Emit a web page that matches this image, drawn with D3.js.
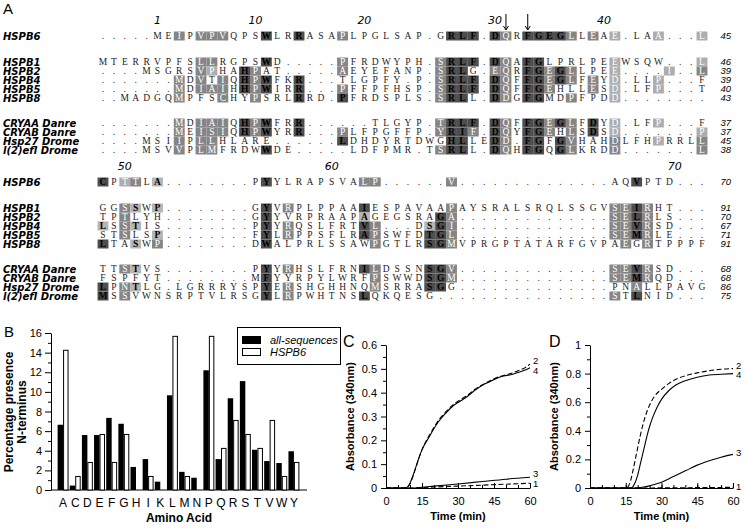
<!DOCTYPE html>
<html>
<head>
<meta charset="utf-8">
<script src="https://cdn.jsdelivr.net/npm/d3@7"></script>
<style>
body { margin: 0; background: #fff; }
text { font-family: "Liberation Sans", Arial, sans-serif; }
</style>
</head>
<body>
<script>
//Width and height
var w = 746;
var h = 530;

//----- Panel A: alignment data (groups of 5 columns, spaces are stripped) -----
var names = ["HSPB6", "HSPB1", "HSPB2", "HSPB4", "HSPB5", "HSPB8",
             "CRYAA Danre", "CRYAB Danre", "Hsp27 Drome", "l(2)efl Drome"];

var seqBlock1 = [
  "..... MEIPV PVQPS WLRRA SAPLP GLSAP .GRLF .DQRF GEGLL EAE.L AA... L",
  "MTERR VPFSL LRGPS WD... ..PFR DWYPH .SRLF .DQAF GLPRL PEEWS QW... L",
  "....M SGRSV PHAHP AT... ..AEY EFANP .SRLG .EQRF GEGLL PEE.. ..I.. L",
  "..... ..MDV TIQHP WFKR. ..TLG PFY.P .SRLF .DQFF GEGLF EYD.L LP... F",
  "..... ..MDI AIHHP WIRR. ..PFF PFHSP .SRLF .DQFF GEHLL ESD.L FP... T",
  "..MAD GQMPF SCHYP SRLRR D.PFR DSPLS .SRLL .DDGF GMDPF PDD.. ..... .",
  "..... ..MDI AIQHP WFRR. ..... TLGYP .TRLF .DQFF GEGLF DYD.L FP... F",
  "..... ..MEI SIQHP WYRR. ..PLF PGFFP .YRIF .DQYF GEHLS DSD.. ..... P",
  "....M SIIPL LHLAR E.... ..LDH DYRTD WGHLL EDD.F GFGVH AHDLF HPRRL L",
  "....M SVVPL MFRDW WDE.. ...LD FPMR. TSRLL .DQHF GQGLK RDD.. ..... L"
];
var shadeBlock1 = [
  "..... ..2.2 22... 3..3. ..2.. ..... ..333 .32.3 3332. 2.1.. .1... 1",
  "..... ....2 2.... 3.... ..2.. ..... .2333 .32.3 3.... ..1.. ..... 1",
  "..... ....2 1..32 ..... ..2.. ..... .233. .22.3 3232. ..1.. ..1.. 2",
  "..... ..2.2 .2.32 3..3. ..... ..... .2333 .32.3 3232. 2.1.. .1... .",
  "..... ..2.2 22.32 3..3. ..2.. ..... .2333 .32.3 32... 2.1.. .1... .",
  "..... ..2.. .2..2 ...3. ..3.. ..... .233. .32.3 3..2. ..1.. ..... .",
  "..... ..2.2 22.32 3..3. ..... ..... .2333 .32.3 3232. 3.1.. .1... .",
  "..... ..2.2 22.32 3..3. ..2.. ..... .2332 .32.3 32.2. 3.1.. ..... 1",
  "..... ..2.2 2.... ..... ..3.. ..... ..33. .32.3 3.32. ..2.. .1... 2",
  "..... ..2.2 2.... 3.... ..... ..... .233. .32.3 3.32. ..2.. ..... 2"
];
var endBlock1 = [45, 46, 39, 39, 40, 43, 37, 37, 45, 38];

var seqBlock2 = [
  "CPTTL A.... ....P YYLRA PSVAL P.... ..V.. ..... ..... ..AQV PTD.. .",
  "GGSSW P.... ....G YVRPL PPAAI ESPAV AAPAY SRALS RQLSS GVSEI RHT.. .",
  "TPTLY H.... ....G YYVRP RAAPA GEGSR AGA.. ..... ..... ..SEL RLS.. .",
  "LSSTI S.... ....P YYRQS LFRTV L...D SGI.. ..... ..... ..SEV RSD.. .",
  "STSLS P.... ....F YLRPP SFLRA PSWFD TGL.. ..... ..... ..SEM RLE.. .",
  "LTASW P.... ....D WALPR LSSAW PGTLR SGMVP RGPTA TARFG VPAEG RTPPP F",
  "TTSTV S.... ....P YYRHS LFRNI LDSSN SGV.. ..... ..... ..SEV RSD.. .",
  "FSPFY T.... ....M FYYRP YLWRF PSWWD SGM.. ..... ..... ..SEM RQD.. .",
  "LPNTL G.LGR RRYSP YERSH GHHNQ MSRRA SGG.. ..... ..... ..PNA LLPAV G",
  "MSSVW NSRPT VLRSG YLRPW HTNSL QKQES G.... ..... ..... ..STL NID.. ."
];
var shadeBlock2 = [
  "3.12. 4.... ..... 3.... ....2 2.... ..2.. ..... ..... ....3 ..... .",
  "..24. 4.... ..... 3.2.. ....3 ..... ..2.. ..... ..... ..223 2.... .",
  "..2.. ..... ..... 3.... ....4 ..... .32.. ..... ..... ..223 2.... .",
  "4.24. ..... ..... 3.2.. ....3 2.... 432.. ..... ..... ..223 2.... .",
  "..2.. 4.... ..... 3.2.. ....3 2.... 332.. ..... ..... ..223 2.... .",
  "3..4. 2.... ..... 3.... ..... 2.... 332.. ..... ..... ...2. 2.... .",
  "..24. ..... ..... 3.2.. ....3 2.... 332.. ..... ..... ..223 2.... .",
  "..... ..... ..... 3.... ..... 2.... 332.. ..... ..... ..223 2.... .",
  "3.24. ..... ..... 3.2.. ..... 2.... 33... ..... ..... ....2 ..... .",
  "3.2.. ..... ..... 3.2.. ....3 ..... ..... ..... ..... ..2.3 ..... ."
];
var endBlock2 = [70, 91, 70, 67, 71, 91, 68, 68, 86, 75];

//residue numbers above HSPB6 (label, alignment column)
var numBlock1 = [["1", 6], ["10", 15], ["20", 25], ["30", 37], ["40", 47]];
var arrowCols = [38, 40];
var numBlock2 = [["50", 3], ["60", 22], ["70", 53.5]];

//----- Panel B data -----
var aminoAcids = ["A","C","D","E","F","G","H","I","K","L","M","N","P","Q","R","S","T","V","W","Y"];
var allSequences = [6.65,0.45,5.6,5.6,7.35,6.75,2.35,3.15,0.85,9.65,1.85,1.25,12.2,3.15,9.35,11.1,4.1,2.95,2.75,3.95];
var hspb6Values = [14.29,1.43,2.86,5.71,2.86,5.71,0,1.43,0,15.71,1.43,0,15.71,4.29,7.14,5.71,4.29,7.14,1.43,2.86];

//----- Panel C data (time in min, absorbance) -----
var cTimeFast = [0,8,9,10,11,12,13,14,15,16,18,20,22,25,28,31,34,37,40,43,46,49,52,55,58,60];
var cCurve4 = [0,0,0.005,0.02,0.045,0.075,0.105,0.135,0.16,0.18,0.215,0.25,0.28,0.315,0.345,0.365,0.385,0.41,0.43,0.445,0.46,0.47,0.475,0.485,0.495,0.505];
var cCurve2 = [0,0,0.004,0.018,0.042,0.072,0.103,0.134,0.161,0.183,0.22,0.255,0.286,0.32,0.35,0.37,0.39,0.413,0.432,0.448,0.463,0.472,0.48,0.492,0.505,0.52];
var cTimeSlow = [0,10,15,20,30,40,50,60];
var cCurve3 = [0,0,0.003,0.008,0.017,0.027,0.037,0.045];
var cCurve1 = [0,0,0.002,0.004,0.008,0.012,0.016,0.02];

//----- Panel D data -----
var dTime2 = [0,15,16,17,18,19,20,21,22,23,24,25,27,30,33,36,40,45,50,55,60];
var dCurve2 = [0,0,0.01,0.05,0.12,0.2,0.28,0.36,0.43,0.49,0.54,0.58,0.64,0.69,0.73,0.76,0.785,0.805,0.82,0.83,0.835];
var dTime4 = [0,17,18,19,20,21,22,23,24,25,26,28,30,33,36,40,45,50,55,60];
var dCurve4 = [0,0,0.01,0.04,0.09,0.16,0.23,0.3,0.37,0.43,0.48,0.56,0.62,0.68,0.72,0.75,0.775,0.79,0.795,0.80];
var dTimeSlow = [0,18,22,25,28,30,35,40,45,50,55,60];
var dCurve3 = [0,0,0.005,0.015,0.03,0.04,0.08,0.12,0.16,0.19,0.215,0.235];
var dCurve1 = [0,0,0,0,0.001,0.001,0.002,0.002,0.003,0.004,0.004,0.005];

//Create SVG element
var svg = d3.select("body")
            .append("svg")
            .attr("width", w)
            .attr("height", h);

//===================== Panel A =====================
var shadeFill = {"1": "#adadad", "2": "#858585", "3": "#4e4e4e", "4": "#b5b5b5"};
var shadeText = {"1": "#fff", "2": "#fff", "3": "#000", "4": "#000"};

//column scale for the alignment
var col = d3.scaleLinear().domain([1, 56]).range([103, 702]);
var colW = col(2) - col(1);
var rowH = 9;
//vertical offset of each row from the HSPB6 row
var rowOffset = [0, 26, 35, 44, 53, 62, 87, 96, 105, 114];

function clean(s) { return s.replace(/ /g, ""); }

function drawBlock(baseY, seqs, shades, ends, nums, arrows) {
  var g = svg.append("g");

  seqs.forEach(function(s, r) {
    var seq = clean(s);
    var sh = clean(shades[r]);
    var y = baseY + rowOffset[r];

    //row name
    g.append("text")
     .attr("x", 3)
     .attr("y", y)
     .attr("dy", "0.35em")
     .style("font-family", "'DejaVu Sans', sans-serif")
     .style("font-weight", "bold")
     .style("font-style", "italic")
     .style("font-size", "10px")
     .text(names[r]);

    //shading boxes
    var cells = seq.split("").map(function(c, i) {
      return {c: c, i: i + 1, s: sh.charAt(i) || "."};
    });

    g.selectAll(null)
     .data(cells.filter(function(d) { return d.s !== "."; }))
     .enter()
     .append("rect")
     .attr("x", function(d) { return col(d.i) - colW / 2; })
     .attr("y", y - rowH / 2)
     .attr("width", colW)
     .attr("height", rowH)
     .style("fill", function(d) { return shadeFill[d.s]; });

    g.selectAll(null)
     .data(cells)
     .enter()
     .append("text")
     .attr("x", function(d) { return col(d.i); })
     .attr("y", y)
     .attr("dy", "0.35em")
     .attr("text-anchor", "middle")
     .style("font-family", "'Liberation Serif', serif")
     .style("font-size", "9.5px")
     .style("font-weight", function(d) { return d.s === "3" || d.s === "4" ? "bold" : "normal"; })
     .style("fill", function(d) { return d.s === "." ? "#222" : shadeText[d.s]; })
     .text(function(d) { return d.c; });

    //length at the end of the row
    g.append("text")
     .attr("x", 731)
     .attr("y", y)
     .attr("dy", "0.35em")
     .attr("text-anchor", "end")
     .style("font-style", "italic")
     .style("font-size", "9.5px")
     .text(ends[r]);
  });

  //residue numbers
  g.selectAll(null)
   .data(nums)
   .enter()
   .append("text")
   .attr("x", function(d) { return col(d[1]); })
   .attr("y", baseY - 12)
   .attr("text-anchor", "middle")
   .style("font-family", "'DejaVu Sans', sans-serif")
   .style("font-style", "italic")
   .style("font-size", "11px")
   .text(function(d) { return d[0]; });

  //arrows
  arrows.forEach(function(c) {
    var x = col(c);
    g.append("line")
     .attr("x1", x).attr("x2", x)
     .attr("y1", baseY - 22).attr("y2", baseY - 6)
     .style("stroke", "#000").style("stroke-width", 1);
    g.append("path")
     .attr("d", "M" + (x - 2.5) + "," + (baseY - 10) + "L" + x + "," + (baseY - 6) + "L" + (x + 2.5) + "," + (baseY - 10))
     .style("fill", "none").style("stroke", "#000").style("stroke-width", 1);
  });
}

svg.append("text").attr("x", 3).attr("y", 14)
   .style("font-size", "15px").text("A");

drawBlock(36, seqBlock1, shadeBlock1, endBlock1, numBlock1, arrowCols);
drawBlock(182, seqBlock2, shadeBlock2, endBlock2, numBlock2, []);

//===================== Panel B =====================
var gB = svg.append("g");
var xB = d3.scaleBand().domain(aminoAcids).range([57, 300]).paddingInner(0.1).paddingOuter(0.05);
var yB = d3.scaleLinear().domain([0, 16]).range([490, 333]);

gB.append("text").attr("x", 4).attr("y", 337).style("font-size", "15px").text("B");

//minor ticks
gB.append("g")
  .attr("transform", "translate(51,0)")
  .call(d3.axisLeft(yB).tickValues(d3.range(1, 16, 2)).tickSize(3).tickFormat(""))
  .call(function(a) { a.select(".domain").remove(); });
//major ticks
gB.append("g")
  .attr("transform", "translate(51,0)")
  .call(d3.axisLeft(yB).tickValues(d3.range(0, 17, 2)).tickSize(6).tickSizeOuter(0).tickPadding(3))
  .call(function(a) { a.selectAll("text").style("font-size", "11px").style("font-family", "'Liberation Sans', Arial, sans-serif"); });

//x axis line and letters
gB.append("line")
  .attr("x1", 51).attr("x2", 307)
  .attr("y1", yB(0)).attr("y2", yB(0))
  .style("stroke", "#000");
gB.selectAll(null)
  .data(aminoAcids)
  .enter()
  .append("text")
  .attr("x", function(d) { return xB(d) + xB.bandwidth() / 2; })
  .attr("y", yB(0) + 17)
  .attr("text-anchor", "middle")
  .style("font-size", "12px")
  .text(function(d) { return d; });

var half = xB.bandwidth() / 2;
var barData = aminoAcids.map(function(a, i) {
  return {aa: a, all: allSequences[i], h6: hspb6Values[i]};
});

gB.selectAll(".barAll")
  .data(barData)
  .enter()
  .append("rect")
  .attr("x", function(d) { return xB(d.aa); })
  .attr("y", function(d) { return yB(d.all); })
  .attr("width", half)
  .attr("height", function(d) { return yB(0) - yB(d.all); })
  .style("fill", "#000");

gB.selectAll(".barH6")
  .data(barData.filter(function(d) { return d.h6 > 0; }))
  .enter()
  .append("rect")
  .attr("x", function(d) { return xB(d.aa) + half + 0.5; })
  .attr("y", function(d) { return yB(d.h6) + 0.5; })
  .attr("width", half - 1)
  .attr("height", function(d) { return yB(0) - yB(d.h6) - 0.5; })
  .style("fill", "#fff")
  .style("stroke", "#000")
  .style("stroke-width", 1);

gB.append("text")
  .attr("x", 179).attr("y", 522)
  .attr("text-anchor", "middle")
  .style("font-size", "12px").style("font-weight", "bold")
  .text("Amino Acid");

gB.append("text")
  .attr("transform", "translate(13,412) rotate(-90)")
  .attr("text-anchor", "middle")
  .style("font-size", "12px").style("font-weight", "bold")
  .text("Percentage presence");
gB.append("text")
  .attr("transform", "translate(26,412) rotate(-90)")
  .attr("text-anchor", "middle")
  .style("font-size", "12px").style("font-weight", "bold")
  .text("N-terminus");

//legend
var lg = gB.append("g");
lg.append("rect").attr("x", 237.5).attr("y", 327.5).attr("width", 103).attr("height", 37)
  .style("fill", "#fff").style("stroke", "#000");
lg.append("rect").attr("x", 242).attr("y", 336).attr("width", 19).attr("height", 8).style("fill", "#000");
lg.append("rect").attr("x", 242.5).attr("y", 348.5).attr("width", 18).attr("height", 7)
  .style("fill", "#fff").style("stroke", "#000");
lg.append("text").attr("x", 270).attr("y", 344).style("font-size", "11px").style("font-style", "italic").text("all-sequences");
lg.append("text").attr("x", 270).attr("y", 356).style("font-size", "11px").style("font-style", "italic").text("HSPB6");

//===================== Panels C and D =====================
function drawKinetics(opt) {
  var g = svg.append("g");
  var x = d3.scaleLinear().domain([0, 60]).range([opt.x0, opt.x1]);
  var y = d3.scaleLinear().domain([0, opt.ymax]).range([488, 345]);

  g.append("text").attr("x", opt.lx).attr("y", 347).style("font-size", "16px").text(opt.letter);

  //y axis: minor then major
  g.append("g")
   .attr("transform", "translate(" + opt.x0 + ",0)")
   .call(d3.axisLeft(y).tickValues(opt.minor).tickSize(3).tickFormat(""))
   .call(function(a) { a.select(".domain").remove(); });
  g.append("g")
   .attr("transform", "translate(" + opt.x0 + ",0)")
   .call(d3.axisLeft(y).tickValues(opt.major).tickSize(5).tickSizeOuter(0).tickPadding(4)
         .tickFormat(function(d) { return d === 0 ? "0" : (d === 1 ? "1" : d3.format(".1f")(d)); }))
   .call(function(a) { a.selectAll("text").style("font-size", "11px").style("font-family", "'Liberation Sans', Arial, sans-serif"); });

  //x axis: ticks pointing up
  g.append("g")
   .attr("transform", "translate(0,488)")
   .call(d3.axisBottom(x).tickValues(d3.range(5, 60, 5)).tickSize(-3).tickFormat(""))
   .call(function(a) { a.select(".domain").remove(); });
  g.append("g")
   .attr("transform", "translate(0,488)")
   .call(d3.axisBottom(x).tickValues([0, 15, 30, 45, 60]).tickSize(-5).tickSizeOuter(0).tickPadding(9))
   .call(function(a) { a.selectAll("text").style("font-size", "11px").style("font-family", "'Liberation Sans', Arial, sans-serif"); });

  g.append("text")
   .attr("x", (opt.x0 + opt.x1) / 2).attr("y", 520)
   .attr("text-anchor", "middle")
   .style("font-size", "11px").style("font-weight", "bold")
   .text("Time (min)");
  g.append("text")
   .attr("transform", "translate(" + opt.tx + "," + ((488 + 345) / 2) + ") rotate(-90)")
   .attr("text-anchor", "middle")
   .style("font-size", "11px").style("font-weight", "bold")
   .text("Absorbance (340nm)");

  var line = d3.line()
               .x(function(d) { return x(d[0]); })
               .y(function(d) { return y(d[1]); })
               .curve(d3.curveMonotoneX);

  opt.curves.forEach(function(c) {
    var pts = c.t.map(function(t, i) { return [t, c.v[i]]; });
    g.append("path")
     .attr("d", line(pts))
     .style("fill", "none")
     .style("stroke", "#000")
     .style("stroke-width", 1.1)
     .style("stroke-dasharray", c.dash ? "5,2.5" : null);
    g.append("text")
     .attr("x", x(60) + 3)
     .attr("y", y(c.v[c.v.length - 1]) + c.dy)
     .attr("dy", "0.35em")
     .style("font-size", "9.5px")
     .text(c.label);
  });
}

drawKinetics({
  letter: "C", lx: 343, x0: 386, x1: 530, tx: 354, ymax: 0.6,
  major: [0, 0.1, 0.2, 0.3, 0.4, 0.5, 0.6],
  minor: [0.05, 0.15, 0.25, 0.35, 0.45, 0.55],
  curves: [
    {t: cTimeFast, v: cCurve2, dash: true, label: "2", dy: -3},
    {t: cTimeFast, v: cCurve4, dash: false, label: "4", dy: 3},
    {t: cTimeSlow, v: cCurve3, dash: false, label: "3", dy: -4},
    {t: cTimeSlow, v: cCurve1, dash: true, label: "1", dy: 0}
  ]
});

drawKinetics({
  letter: "D", lx: 549, x0: 590, x1: 733, tx: 558, ymax: 1.0,
  major: [0, 0.2, 0.4, 0.6, 0.8, 1],
  minor: [0.1, 0.3, 0.5, 0.7, 0.9],
  curves: [
    {t: dTime2, v: dCurve2, dash: true, label: "2", dy: -3},
    {t: dTime4, v: dCurve4, dash: false, label: "4", dy: 1},
    {t: dTimeSlow, v: dCurve3, dash: false, label: "3", dy: -2},
    {t: dTimeSlow, v: dCurve1, dash: true, label: "1", dy: -1}
  ]
});
</script>
</body>
</html>
